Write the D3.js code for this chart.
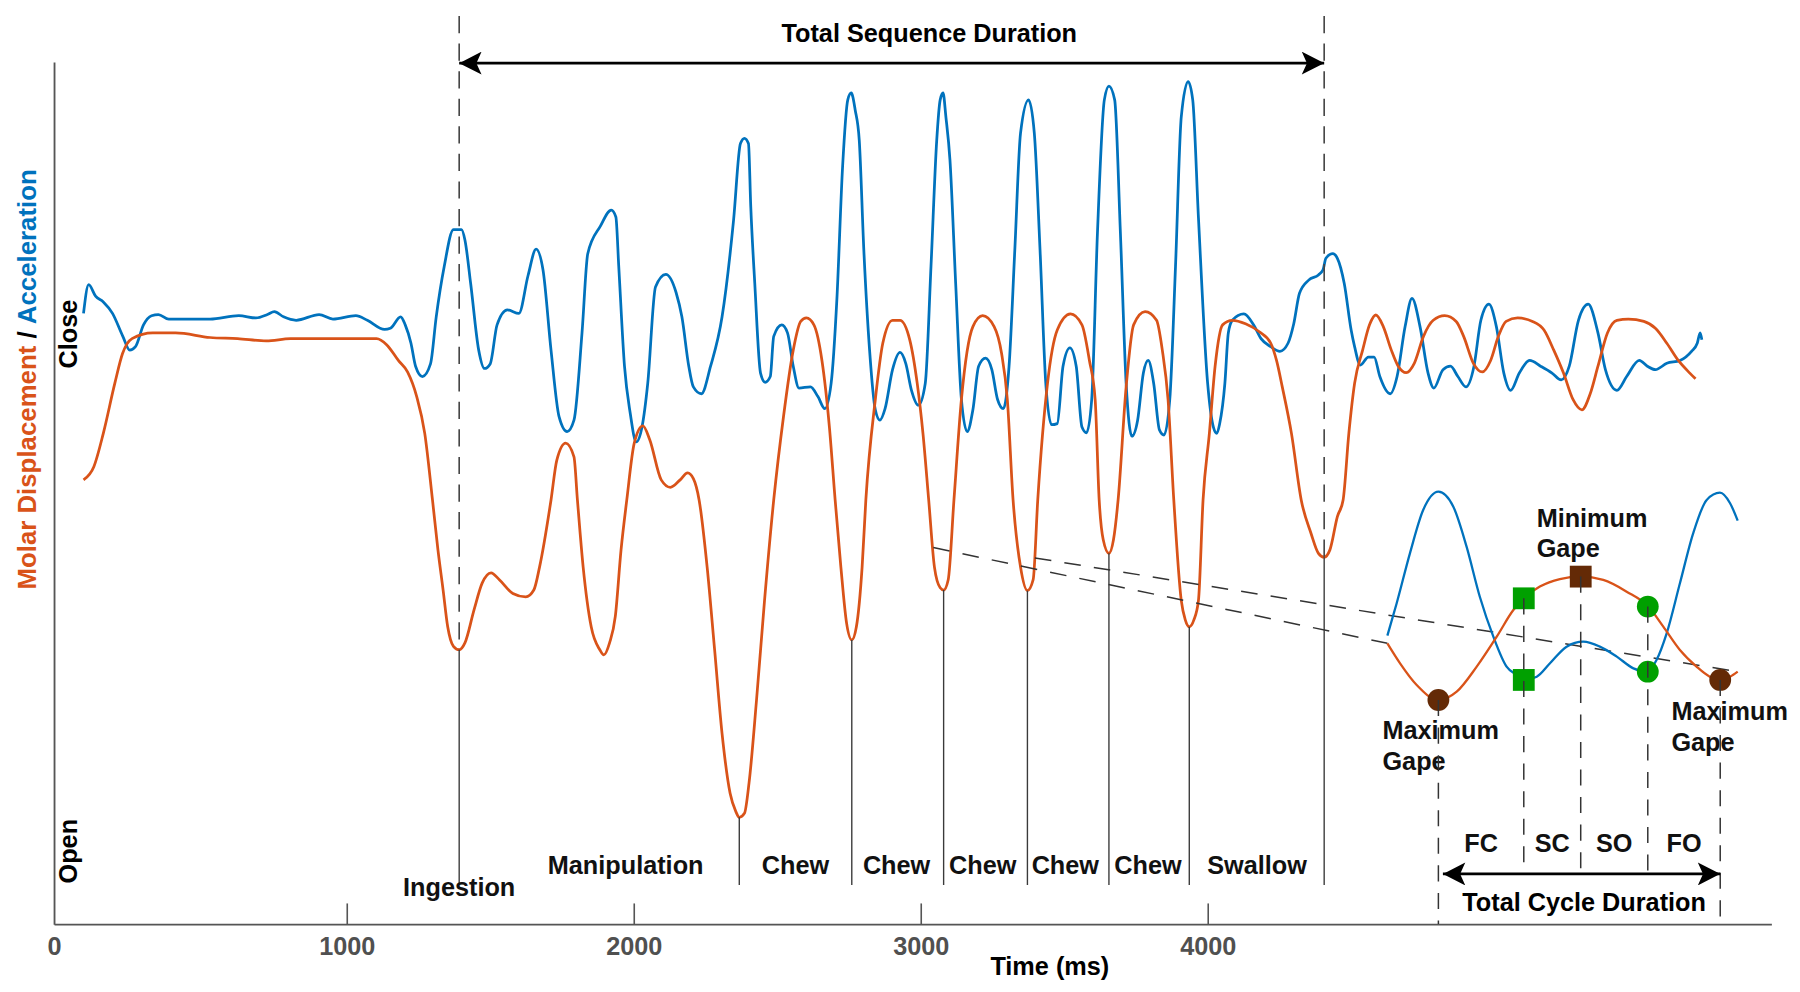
<!DOCTYPE html>
<html>
<head>
<meta charset="utf-8">
<script src="https://cdn.jsdelivr.net/npm/d3@7"></script>
<style>
  html, body { margin: 0; padding: 0; background: #fff; }
  svg { display: block; font-family: "Liberation Sans", Arial, sans-serif; font-weight: bold; }
</style>
</head>
<body>
<svg id="chart" width="1800" height="992" viewBox="0 0 1568 864.14"></svg>
<script>
// ---- data ----
const xTicks = [0, 1000, 2000, 3000, 4000];

// molar displacement [time ms, gape a.u.] (higher = closed)
const displacement = [[83,387],[119,398.5],[152,427.5],[192,471],[219,497],[252,510],[324,515],[404,515],[524,511],[620,510],[720,508],[804,510],[992,510],[1104,510],[1140,504.5],[1180,491],[1212,481],[1244,459.5],[1272,427.5],[1299,369.5],[1318,326],[1336,291],[1352,259],[1372,242],[1392,239],[1412,245],[1444,274],[1472,297],[1503,306],[1532,300],[1579,288],[1624,285],[1652,291],[1672,311],[1712,369.5],[1732,404],[1763,419],[1792,407],[1804,369.5],[1824,311],[1852,259],[1882,239],[1896,234.5],[1916,245],[1936,268],[1956,326],[1976,369.5],[2002,419],[2032,434],[2056,422],[2096,387],[2128,380.5],[2162,387],[2188,393],[2208,388],[2228,369.5],[2256,311],[2282,239],[2308,166],[2336,114],[2356,98],[2368,93],[2386,96.5],[2402,123],[2428,195],[2456,282],[2488,369.5],[2522,442],[2556,500],[2582,525],[2602,528],[2628,522],[2656,491],[2682,433],[2702,369.5],[2722,311],[2742,262],[2760,247.5],[2776,259],[2796,311],[2809,369.5],[2842,457],[2868,506],[2902,526],[2928,526],[2962,509],[2988,471],[3008,427.5],[3028,369.5],[3048,311],[3068,293],[3080,291],[3096,300],[3116,369.5],[3142,457],[3182,520.5],[3216,530],[3256,520.5],[3282,497],[3302,457],[3322,369.5],[3348,311],[3372,290.5],[3392,300],[3408,369.5],[3442,471],[3476,517.5],[3522,531.5],[3562,522],[3588,491],[3608,457],[3622,369.5],[3636,335],[3656,323],[3672,335],[3688,369.5],[3716,468],[3742,522],[3782,533.5],[3822,526],[3842,500],[3862,457],[3882,369.5],[3908,282],[3922,265],[3936,259],[3952,265],[3968,282],[3984,369.5],[4006,427.5],[4026,486],[4052,522],[4086,526],[4132,523],[4180,516],[4220,506],[4240,491],[4260,468],[4292,427.5],[4326,369.5],[4360,340.5],[4386,323],[4406,319.6],[4426,326],[4452,355],[4472,369.5],[4492,427.5],[4512,471],[4540,500],[4564,522],[4586,530.6],[4612,520.5],[4640,500],[4664,486],[4692,480.4],[4720,488.5],[4752,512],[4786,526],[4826,530],[4866,525],[4892,512],[4926,488.5],[4957,481],[4986,491],[5013,512],[5040,525],[5080,528],[5132,525],[5172,517.5],[5206,500],[5240,480],[5273,457],[5304,448],[5333,462],[5360,486],[5393,515],[5426,526],[5466,527],[5520,525],[5560,519],[5600,506],[5640,491],[5680,480],[5700,475]];

// acceleration [time ms, a.u.]
const acceleration = [[83,532],[101,557],[125,547],[152,542],[184,532],[220,512],[244,500],[264,503],[292,522],[320,530],[344,531],[380,527],[524,527],[624,530],[684,528],[724,531],[748,533.5],[780,529],[824,526],[904,531],[952,527],[1032,530],[1072,526],[1132,518],[1152,519],[1188,529],[1204,522],[1224,506],[1240,486],[1264,477],[1292,488],[1312,529],[1340,573],[1372,605],[1400,605],[1412,596],[1432,558],[1460,500],[1480,484],[1500,488],[1524,522],[1560,535],[1600,532],[1632,565],[1660,588],[1684,570],[1712,500],[1740,442],[1768,429],[1792,439],[1820,515],[1840,584],[1884,608],[1922,622],[1938,616],[1948,573],[1968,486],[1988,445],[2009,420],[2029,433],[2049,471],[2076,555],[2112,566],[2148,550],[2168,529],[2192,486],[2208,468],[2236,462],[2268,486],[2308,529],[2348,613],[2372,680],[2386,684.5],[2400,680],[2408,625],[2422,558],[2442,480],[2458,472],[2476,477],[2488,512],[2516,522],[2536,515],[2556,486],[2576,467],[2616,468],[2642,459.5],[2666,449],[2688,471],[2708,544],[2728,660],[2746,718],[2758,724],[2772,709],[2786,683],[2802,587],[2822,500],[2842,448],[2858,439],[2876,449],[2902,483],[2928,498],[2948,488.5],[2968,465],[2992,452],[3016,471],[3036,573],[3056,683],[3068,718],[3078,724],[3088,703],[3102,666],[3122,558],[3142,457],[3162,429],[3182,448],[3202,486],[3226,493],[3248,483],[3268,457],[3288,449],[3308,486],[3328,587],[3348,689],[3376,718],[3396,689],[3416,587],[3436,471],[3456,435],[3476,436],[3496,486],[3520,502],[3542,486],[3562,433],[3578,428],[3596,457],[3616,602],[3640,718],[3656,730],[3676,718],[3696,602],[3716,471],[3736,425],[3756,439],[3776,480],[3793,491],[3812,471],[3832,430.5],[3848,426],[3868,457],[3888,573],[3908,703],[3932,734],[3948,718],[3968,615],[4000,471],[4020,433],[4032,427.5],[4042,436],[4060,471],[4072,515],[4086,526],[4126,531.5],[4160,522],[4186,510],[4220,503],[4252,499],[4280,506],[4300,523],[4320,549.5],[4352,561],[4386,565.5],[4402,570],[4412,580],[4436,584],[4452,580],[4476,558],[4500,517.5],[4512,503],[4532,487],[4560,494],[4580,494],[4600,477],[4636,462],[4660,477],[4688,520.5],[4712,545],[4740,520.5],[4768,480],[4788,467],[4820,483],[4846,486],[4872,477],[4900,468],[4928,486],[4952,526],[4980,540],[5006,520.5],[5032,480],[5056,465],[5086,480],[5122,491],[5160,486],[5200,480],[5232,474],[5260,486],[5292,526],[5326,540],[5360,515],[5386,483],[5426,465],[5460,477],[5504,491],[5532,486],[5560,483],[5600,488.5],[5646,491],[5686,499],[5706,506],[5716,515],[5722,509]];

// cycle boundaries (displacement minima), ms
const boundaries = [1392, 2368, 2760, 3080, 3372, 3656, 3936, 4406];
const phaseNames = ["Ingestion", "Manipulation", "Chew", "Chew", "Chew", "Chew", "Chew", "Swallow"];
const phaseAt = [1392, 1972, 2564, 2916, 3216, 3504, 3792, 4172];
const sequence = [1392, 4406];
const sequenceLabelAt = 3030;

// one chew cycle enlarged, [phase % of cycle, a.u.]
const cycleDisp = [[-18.1,244.6],[-13.6,227.2],[-7.7,208.3],[0,195.2],[6.5,202.5],[13.6,224.3],[20.7,250.4],[26.6,273.6],[30.3,283.8],[36,294],[43.1,300.6],[50.5,302.7],[58.5,299.8],[66.8,289.6],[74.5,276.6],[79.8,259.1],[85.7,238.8],[91.6,224.3],[96.3,215.5],[99.9,212.7],[103.5,215.5],[106.2,219.9]];
const cycleAcc = [[-18.1,251.3],[-14.8,279.5],[-10.1,323],[-5.4,360.7],[0,376.7],[5.3,363.6],[10,328.8],[14.7,285.2],[19.5,250.4],[24.2,224.3],[27.8,217],[30.3,212.7],[34.9,215.5],[39.6,227.2],[45.5,241.7],[51.4,246],[57.3,241.7],[63.3,233],[69.2,222.8],[74.1,219.9],[77.4,230.1],[81,253.3],[85.7,296.9],[90.4,340.4],[95.2,369.5],[99.9,375.8],[103.5,366.6],[106.2,351.5]];
const cycleEvents = [0, 30.3, 50.5, 74.3, 100];
const cycleEventDisp = [195.2, 283.8, 302.7, 276.6, 212.7];
const cycleEventAcc = [null, 212.7, null, 219.9, null];
const cyclePhases = ["FC", "SC", "SO", "FO"];
// points of the chew that the inset enlarges [ms, a.u.]
const zoomFrom = [[3044, 328], [3398, 319]];

// ---- layout ----
const ORANGE = "#D95319", BLUE = "#0072BD", GREEN = "#00a000", BROWN = "#642a06";
const svg = d3.select("#chart");
const x = d3.scaleLinear().domain([-20, 5964]).range([47, 1543]);
const y = d3.scaleLinear().domain([0, 751]).range([805, 54]);
const cx = d3.scaleLinear().domain([0, 100]).range([1253, 1498.5]);

svg.append("defs").append("marker").attr("id", "arrow").attr("viewBox", "-20 -10 20 20")
  .attr("refX", 0).attr("refY", 0).attr("markerWidth", 20).attr("markerHeight", 20)
  .attr("markerUnits", "userSpaceOnUse").attr("orient", "auto-start-reverse")
  .append("path").attr("d", "M0,0L-19.5,-10L-15,0L-19.5,10Z").attr("fill", "#000");

// axes
const xAxis = svg.append("g").attr("transform", `translate(0,${y(0)})`)
  .call(d3.axisBottom(x).tickValues(xTicks).tickSizeInner(-18).tickSizeOuter(0).tickFormat(d3.format("d")));
xAxis.attr("font-family", null).attr("font-size", null);
xAxis.select(".domain").attr("stroke", "#555").attr("stroke-width", 1.6);
xAxis.selectAll(".tick line").attr("stroke", "#555").attr("stroke-width", 1.4).filter(d => d === 0).remove();
xAxis.selectAll(".tick text").attr("y", 27).attr("dy", null).attr("font-size", 22).attr("fill", "#505050");
xAxis.selectAll(".tick").filter(d => d === 0).select("text").attr("x", -5);
svg.append("g").attr("transform", `translate(${x.range()[0]},0)`)
  .call(d3.axisLeft(y).tickValues([]).tickSizeOuter(0))
  .select(".domain").attr("stroke", "#555").attr("stroke-width", 1.6);

svg.append("text").attr("x", x(3450)).attr("y", 849).attr("text-anchor", "middle").attr("font-size", 22).text("Time (ms)");
const yl = svg.append("text").attr("transform", "translate(31,330.5) rotate(-90)").attr("text-anchor", "middle").attr("font-size", 22.5);
yl.append("tspan").attr("fill", ORANGE).text("Molar Displacement");
yl.append("tspan").attr("fill", "#000").text(" / ");
yl.append("tspan").attr("fill", BLUE).text("Acceleration");
svg.append("text").attr("transform", "translate(67,291) rotate(-90)").attr("text-anchor", "middle").attr("font-size", 22).text("Close");
svg.append("text").attr("transform", "translate(67,741.5) rotate(-90)").attr("text-anchor", "middle").attr("font-size", 22).text("Open");

// main traces
const line = d3.line().x(d => x(d[0])).y(d => y(d[1])).curve(d3.curveMonotoneX);
svg.append("path").datum(acceleration).attr("d", line).attr("fill", "none").attr("stroke", BLUE).attr("stroke-width", 2.4);
svg.append("path").datum(displacement).attr("d", line).attr("fill", "none").attr("stroke", ORANGE).attr("stroke-width", 2.4);

// cycle boundaries and phase labels
const dispAt = t => displacement.find(d => d[0] === t)[1];
const BOTTOM = 771;
svg.append("g").selectAll("line").data(boundaries).join("line")
  .attr("x1", d => x(d)).attr("x2", d => x(d)).attr("y1", d => y(dispAt(d))).attr("y2", BOTTOM)
  .attr("stroke", "#3a3a3a").attr("stroke-width", 1.2);
svg.append("g").selectAll("text").data(phaseNames).join("text")
  .attr("x", (d, i) => x(phaseAt[i])).attr("y", (d, i) => i === 0 ? 780.5 : 761.3)
  .attr("text-anchor", "middle").attr("font-size", 22).attr("fill", "#111").text(d => d);

// total sequence duration
const seqTop = 14;
svg.append("g").selectAll("line").data(sequence).join("line")
  .attr("x1", d => x(d)).attr("x2", d => x(d)).attr("y1", seqTop).attr("y2", d => y(dispAt(d)))
  .attr("stroke", "#444").attr("stroke-width", 1.4).attr("stroke-dasharray", "15,9");
svg.append("line").attr("x1", x(sequence[0])).attr("x2", x(sequence[1])).attr("y1", 55).attr("y2", 55)
  .attr("stroke", "#000").attr("stroke-width", 2.3).attr("marker-start", "url(#arrow)").attr("marker-end", "url(#arrow)");
svg.append("text").attr("x", x(sequenceLabelAt)).attr("y", 36.3).attr("text-anchor", "middle").attr("font-size", 22).text("Total Sequence Duration");

// zoom lines from the chew to the inset
const insetEnds = [cycleDisp[0], cycleDisp[cycleDisp.length - 1]];
svg.append("g").selectAll("line").data(zoomFrom).join("line")
  .attr("x1", d => x(d[0])).attr("y1", d => y(d[1]))
  .attr("x2", (d, i) => cx(insetEnds[i][0])).attr("y2", (d, i) => y(insetEnds[i][1]))
  .attr("stroke", "#333").attr("stroke-width", 1.3).attr("stroke-dasharray", "14.5,11.5");

// inset: one enlarged cycle
const cline = d3.line().x(d => cx(d[0])).y(d => y(d[1])).curve(d3.curveMonotoneX);
svg.append("path").datum(cycleAcc).attr("d", cline).attr("fill", "none").attr("stroke", BLUE).attr("stroke-width", 2);
svg.append("path").datum(cycleDisp).attr("d", cline).attr("fill", "none").attr("stroke", ORANGE).attr("stroke-width", 2);

const markers = [];
cycleEvents.forEach((p, i) => {
  const kind = i === 0 || i === 4 ? "max" : i === 2 ? "min" : "trans";
  markers.push({ p, v: cycleEventDisp[i], kind, shape: i === 1 || i === 2 ? "square" : "circle" });
  if (cycleEventAcc[i] != null) markers.push({ p, v: cycleEventAcc[i], kind, shape: i === 1 ? "square" : "circle" });
});
const mg = svg.append("g");
mg.selectAll("rect").data(markers.filter(m => m.shape === "square")).join("rect")
  .attr("x", d => cx(d.p) - 9.5).attr("y", d => y(d.v) - 9.5).attr("width", 19).attr("height", 19)
  .attr("fill", d => d.kind === "min" ? BROWN : GREEN);
mg.selectAll("circle").data(markers.filter(m => m.shape === "circle")).join("circle")
  .attr("cx", d => cx(d.p)).attr("cy", d => y(d.v)).attr("r", 9.5)
  .attr("fill", d => d.kind === "max" ? BROWN : GREEN);

// gape labels
const ARROW_Y = 761.3;
[[0, -48.7, 644], [4, -42.5, 627.1], [2, -38.4, 458.8]].forEach(([i, dx, base]) => {
  const t = svg.append("text").attr("font-size", 22).attr("fill", "#111");
  [i === 2 ? "Minimum" : "Maximum", "Gape"].forEach((s, k) =>
    t.append("tspan").attr("x", cx(cycleEvents[i]) + dx).attr("y", base + k * 26.8).text(s));
});

// dashed event lines
svg.append("g").selectAll("line").data(cycleEvents).join("line")
  .attr("x1", d => cx(d)).attr("x2", d => cx(d))
  .attr("y1", (d, i) => y(Math.max(cycleEventDisp[i], cycleEventAcc[i] ?? -1)))
  .attr("y2", (d, i) => i === 0 || i === 4 ? y(0) : ARROW_Y)
  .attr("stroke", "#333").attr("stroke-width", 1.3).attr("stroke-dasharray", "14,10");

// phase labels and cycle duration
svg.append("g").selectAll("text").data(cyclePhases).join("text")
  .attr("x", (d, i) => cx((cycleEvents[i] + cycleEvents[i + 1]) / 2)).attr("y", 742.4)
  .attr("text-anchor", "middle").attr("font-size", 22).attr("fill", "#111").text(d => d);
svg.append("line").attr("x1", cx(1.6)).attr("x2", cx(100)).attr("y1", ARROW_Y).attr("y2", ARROW_Y)
  .attr("stroke", "#000").attr("stroke-width", 2.3).attr("marker-start", "url(#arrow)").attr("marker-end", "url(#arrow)");
svg.append("text").attr("x", cx(51.7)).attr("y", 794).attr("text-anchor", "middle").attr("font-size", 22).text("Total Cycle Duration");
</script>
</body>
</html>
